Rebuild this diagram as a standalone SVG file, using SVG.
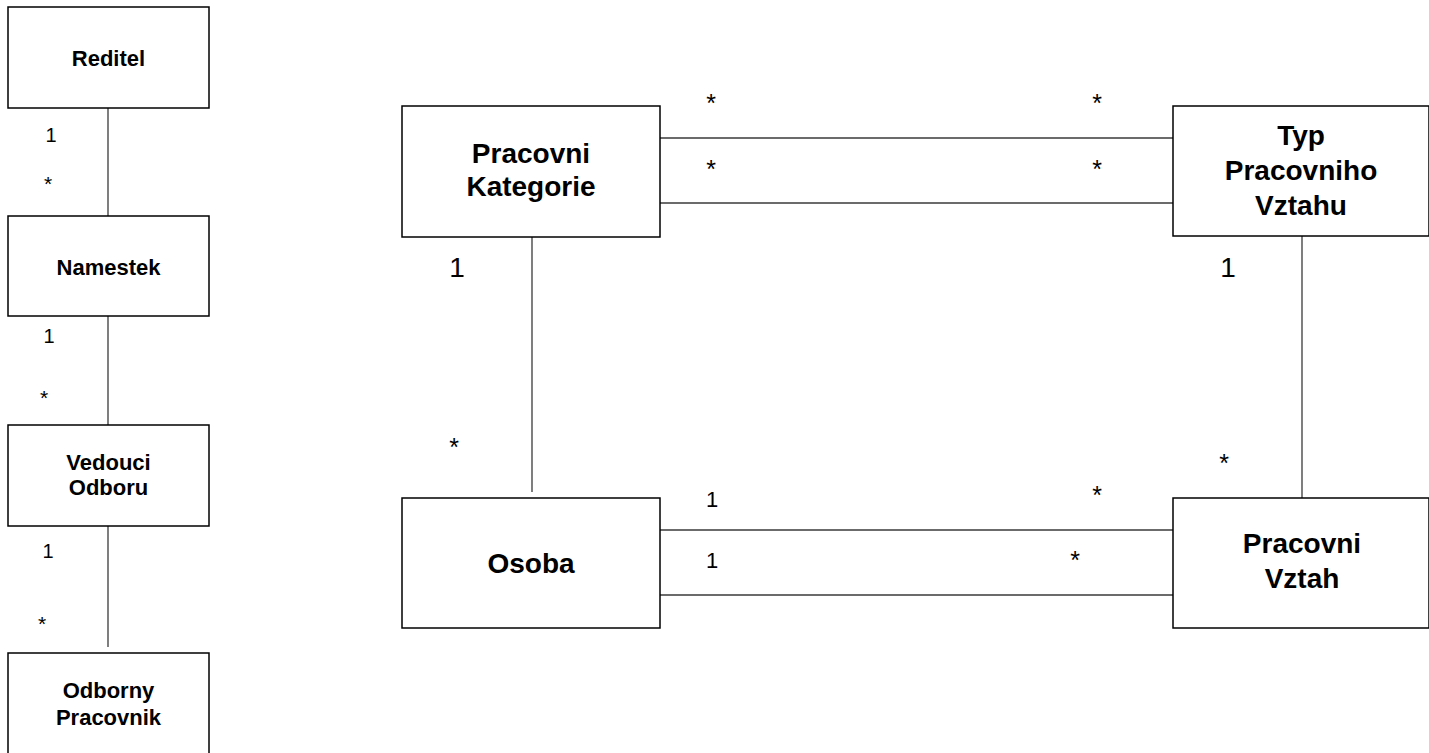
<svg xmlns="http://www.w3.org/2000/svg" width="1429" height="753" viewBox="0 0 1429 753">
  <style>
    text { font-family: 'Liberation Sans', Arimo, Helvetica, sans-serif; fill: #000000; text-anchor: middle; }
    .box { fill: #ffffff; stroke: #000000; stroke-width: 1.5; }
    .edge { stroke: #3a3a3a; stroke-width: 1.3; fill: none; }
    .name { font-weight: bold; }
    .small { font-size: 22px; }
    .large { font-size: 28px; }
    .m1 { font-size: 20px; }
    .star { font-size: 25px; }
    .starS { font-size: 21px; }
  </style>
  <rect width="1429" height="753" fill="#ffffff"/>

  <!-- connectors -->
  <g id="connectors">
    <line class="edge" x1="108" y1="108" x2="108" y2="216"/>
    <line class="edge" x1="108" y1="316" x2="108" y2="425"/>
    <line class="edge" x1="108" y1="526" x2="108" y2="647"/>

    <line class="edge" x1="660" y1="138" x2="1182" y2="138"/>
    <line class="edge" x1="660" y1="203" x2="1178" y2="203"/>
    <line class="edge" x1="532" y1="237" x2="532" y2="492"/>
    <line class="edge" x1="1302" y1="236" x2="1302" y2="500"/>
    <line class="edge" x1="660" y1="530" x2="1173" y2="530"/>
    <line class="edge" x1="660" y1="595" x2="1176" y2="595"/>
  </g>

  <!-- multiplicities -->
  <g id="multiplicities">
    <text class="m1" x="51" y="142">1</text>
    <text class="starS" x="48" y="191">*</text>
    <text class="m1" x="49" y="343">1</text>
    <text class="starS" x="44" y="405">*</text>
    <text class="m1" x="48" y="558">1</text>
    <text class="starS" x="42" y="631">*</text>

    <text class="star" x="711" y="112">*</text>
    <text class="star" x="1097" y="112">*</text>
    <text class="star" x="711" y="178">*</text>
    <text class="star" x="1097" y="178">*</text>

    <text x="457" y="277" font-size="28">1</text>
    <text x="1228" y="277" font-size="28">1</text>
    <text class="star" x="454" y="456">*</text>
    <text class="star" x="1224" y="472">*</text>

    <text x="712" y="507" font-size="22">1</text>
    <text class="star" x="1097" y="504">*</text>
    <text x="712" y="568" font-size="22">1</text>
    <text class="star" x="1075" y="569">*</text>
  </g>

  <!-- hierarchy column -->
  <g id="reditel">
    <rect class="box" x="8" y="7" width="201" height="101"/>
    <text class="name small" x="108.5" y="66">Reditel</text>
  </g>
  <g id="namestek">
    <rect class="box" x="8" y="216" width="201" height="100"/>
    <text class="name small" x="108.5" y="275">Namestek</text>
  </g>
  <g id="vedouci-odboru">
    <rect class="box" x="8" y="425" width="201" height="101"/>
    <text class="name small" x="108.5" y="470">Vedouci</text>
    <text class="name small" x="108.5" y="495">Odboru</text>
  </g>
  <g id="odborny-pracovnik">
    <rect class="box" x="8" y="653" width="201" height="110"/>
    <text class="name small" x="108.5" y="698">Odborny</text>
    <text class="name small" x="108.5" y="725">Pracovnik</text>
  </g>

  <!-- employment model -->
  <g id="pracovni-kategorie">
    <rect class="box" x="402" y="106" width="258" height="131"/>
    <text class="name large" x="531" y="163">Pracovni</text>
    <text class="name large" x="531" y="196">Kategorie</text>
  </g>
  <g id="typ-pracovniho-vztahu">
    <rect class="box" x="1173" y="106" width="256" height="130"/>
    <text class="name large" x="1301" y="145">Typ</text>
    <text class="name large" x="1301" y="180">Pracovniho</text>
    <text class="name large" x="1301" y="215">Vztahu</text>
  </g>
  <g id="osoba">
    <rect class="box" x="402" y="498" width="258" height="130"/>
    <text class="name large" x="531" y="573">Osoba</text>
  </g>
  <g id="pracovni-vztah">
    <rect class="box" x="1173" y="498" width="256" height="130"/>
    <text class="name large" x="1302" y="553">Pracovni</text>
    <text class="name large" x="1302" y="588">Vztah</text>
  </g>
</svg>
